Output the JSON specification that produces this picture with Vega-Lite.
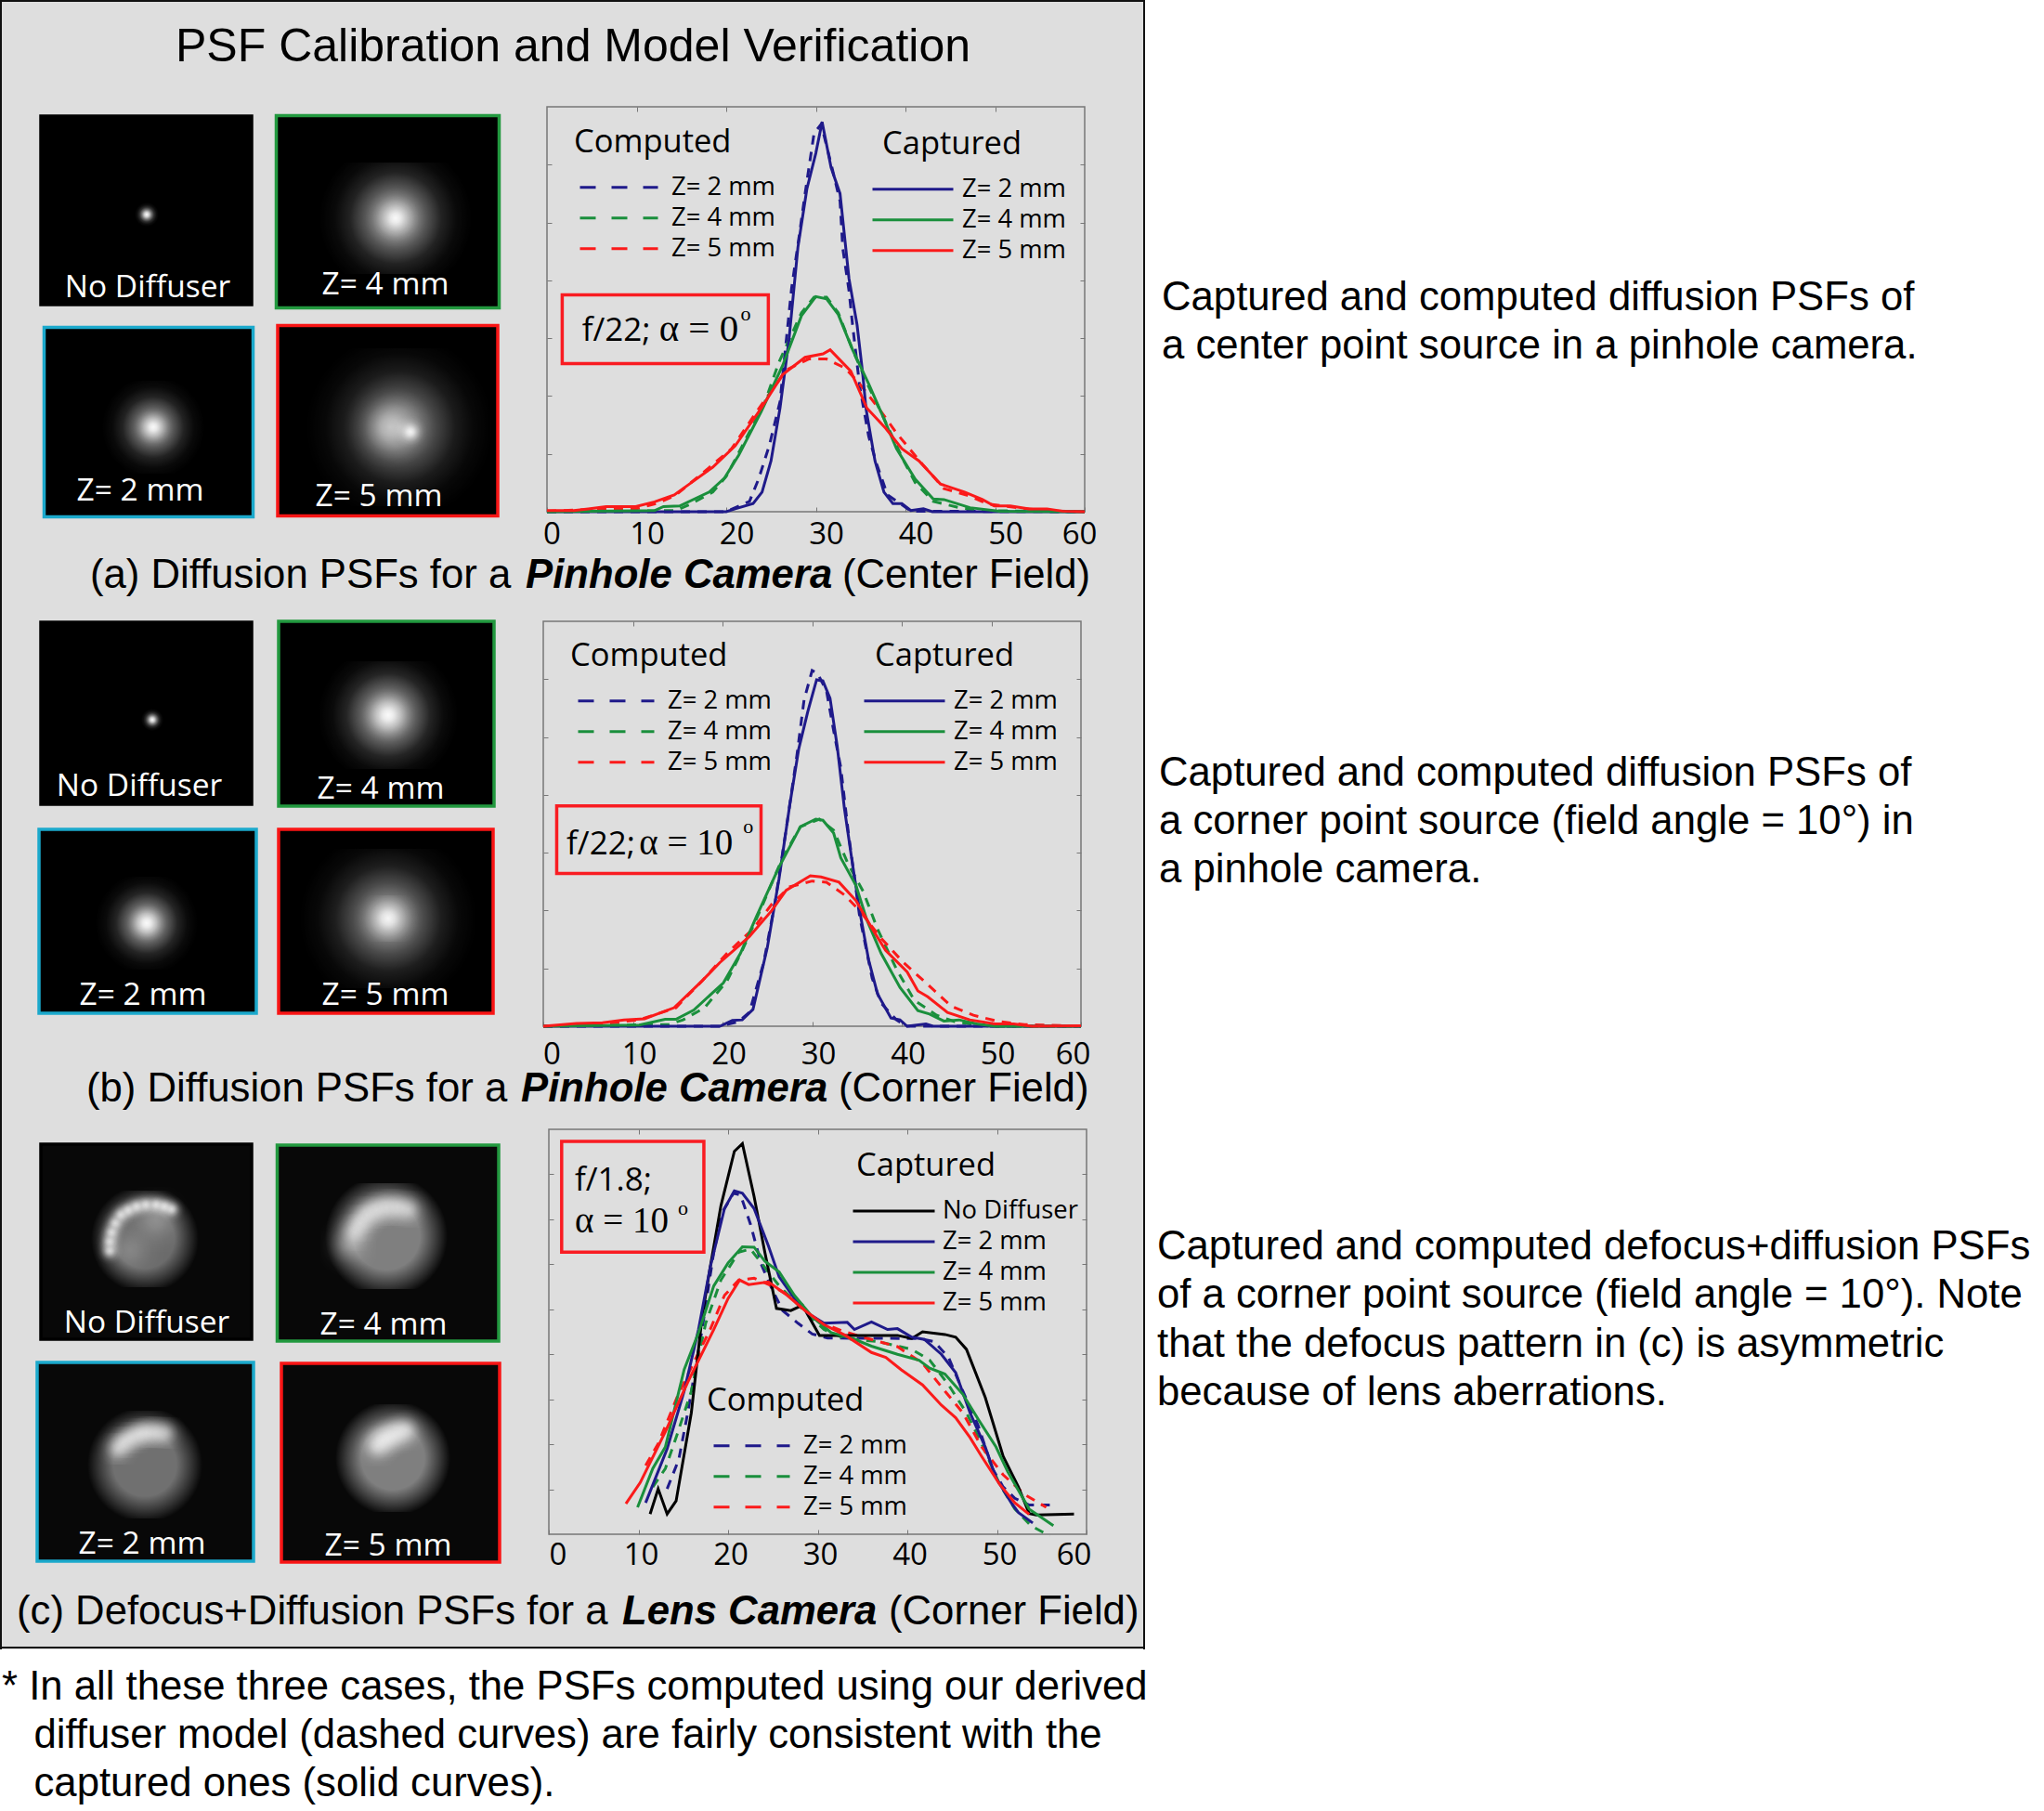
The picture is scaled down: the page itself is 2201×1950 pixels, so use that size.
{"$schema":"https://vega.github.io/schema/vega-lite/v6.json","padding":0,"background":"#dedede","spacing":0,"config":{"view":{"stroke":null}},
"datasets":{
"aComputed":[{"z":"Z= 2 mm","x":0,"y":0},{"z":"Z= 2 mm","x":20,"y":0},{"z":"Z= 2 mm","x":22.6,"y":0.18},{"z":"Z= 2 mm","x":23.6,"y":0.56},{"z":"Z= 2 mm","x":24.8,"y":1.14},{"z":"Z= 2 mm","x":26,"y":1.9},{"z":"Z= 2 mm","x":27.3,"y":3.87},{"z":"Z= 2 mm","x":28.2,"y":4.83},{"z":"Z= 2 mm","x":28.8,"y":5.5},{"z":"Z= 2 mm","x":29.8,"y":6.54},{"z":"Z= 2 mm","x":30.6,"y":6.7},{"z":"Z= 2 mm","x":31.8,"y":5.95},{"z":"Z= 2 mm","x":32.7,"y":5.37},{"z":"Z= 2 mm","x":33,"y":4.56},{"z":"Z= 2 mm","x":33.7,"y":3.82},{"z":"Z= 2 mm","x":34.1,"y":3.23},{"z":"Z= 2 mm","x":34.9,"y":2.16},{"z":"Z= 2 mm","x":35.9,"y":1.3},{"z":"Z= 2 mm","x":36.8,"y":0.82},{"z":"Z= 2 mm","x":38,"y":0.29},{"z":"Z= 2 mm","x":39.8,"y":0.1},{"z":"Z= 2 mm","x":40.6,"y":0.01},{"z":"Z= 2 mm","x":60,"y":0},
{"z":"Z= 4 mm","x":0,"y":0},{"z":"Z= 4 mm","x":14.4,"y":0.02},{"z":"Z= 4 mm","x":16,"y":0.13},{"z":"Z= 4 mm","x":18.5,"y":0.34},{"z":"Z= 4 mm","x":20,"y":0.61},{"z":"Z= 4 mm","x":21.8,"y":1.14},{"z":"Z= 4 mm","x":24.3,"y":1.89},{"z":"Z= 4 mm","x":25.9,"y":2.59},{"z":"Z= 4 mm","x":28.4,"y":3.44},{"z":"Z= 4 mm","x":29.8,"y":3.71},{"z":"Z= 4 mm","x":31.2,"y":3.71},{"z":"Z= 4 mm","x":32.5,"y":3.44},{"z":"Z= 4 mm","x":34.1,"y":2.8},{"z":"Z= 4 mm","x":35.9,"y":2.16},{"z":"Z= 4 mm","x":37.4,"y":1.68},{"z":"Z= 4 mm","x":39.8,"y":0.88},{"z":"Z= 4 mm","x":41.1,"y":0.5},{"z":"Z= 4 mm","x":43.1,"y":0.18},{"z":"Z= 4 mm","x":46,"y":0.07},{"z":"Z= 4 mm","x":48.4,"y":0.02},{"z":"Z= 4 mm","x":60,"y":0},
{"z":"Z= 5 mm","x":0,"y":0.01},{"z":"Z= 5 mm","x":6.2,"y":0.05},{"z":"Z= 5 mm","x":9.9,"y":0.05},{"z":"Z= 5 mm","x":12.4,"y":0.15},{"z":"Z= 5 mm","x":14.4,"y":0.29},{"z":"Z= 5 mm","x":17.3,"y":0.66},{"z":"Z= 5 mm","x":20.6,"y":1.09},{"z":"Z= 5 mm","x":23.4,"y":1.73},{"z":"Z= 5 mm","x":26.7,"y":2.45},{"z":"Z= 5 mm","x":29.2,"y":2.64},{"z":"Z= 5 mm","x":31.2,"y":2.64},{"z":"Z= 5 mm","x":33.3,"y":2.48},{"z":"Z= 5 mm","x":34.9,"y":2.21},{"z":"Z= 5 mm","x":37,"y":1.79},{"z":"Z= 5 mm","x":39,"y":1.36},{"z":"Z= 5 mm","x":41.9,"y":0.82},{"z":"Z= 5 mm","x":44.3,"y":0.4},{"z":"Z= 5 mm","x":46.8,"y":0.29},{"z":"Z= 5 mm","x":49.3,"y":0.13},{"z":"Z= 5 mm","x":52.5,"y":0.07},{"z":"Z= 5 mm","x":55.4,"y":0.02},{"z":"Z= 5 mm","x":60,"y":0}],
"aCaptured":[{"z":"Z= 2 mm","x":0,"y":0},{"z":"Z= 2 mm","x":20,"y":0},{"z":"Z= 2 mm","x":21,"y":0.05},{"z":"Z= 2 mm","x":23,"y":0.14},{"z":"Z= 2 mm","x":24,"y":0.34},{"z":"Z= 2 mm","x":25,"y":0.88},{"z":"Z= 2 mm","x":26,"y":1.79},{"z":"Z= 2 mm","x":27,"y":2.97},{"z":"Z= 2 mm","x":28,"y":4.57},{"z":"Z= 2 mm","x":29,"y":5.58},{"z":"Z= 2 mm","x":30,"y":6.2},{"z":"Z= 2 mm","x":30.7,"y":6.74},{"z":"Z= 2 mm","x":31.7,"y":5.95},{"z":"Z= 2 mm","x":32.7,"y":5.5},{"z":"Z= 2 mm","x":33.7,"y":4.03},{"z":"Z= 2 mm","x":34.6,"y":3.23},{"z":"Z= 2 mm","x":35.2,"y":2.43},{"z":"Z= 2 mm","x":35.6,"y":1.78},{"z":"Z= 2 mm","x":36.6,"y":0.88},{"z":"Z= 2 mm","x":37.6,"y":0.34},{"z":"Z= 2 mm","x":38.6,"y":0.14},{"z":"Z= 2 mm","x":39.6,"y":0.14},{"z":"Z= 2 mm","x":40.6,"y":0.02},{"z":"Z= 2 mm","x":42,"y":0.05},{"z":"Z= 2 mm","x":43,"y":0},{"z":"Z= 2 mm","x":60,"y":0},
{"z":"Z= 4 mm","x":0,"y":0},{"z":"Z= 4 mm","x":12,"y":0.02},{"z":"Z= 4 mm","x":13,"y":0.09},{"z":"Z= 4 mm","x":14.8,"y":0.1},{"z":"Z= 4 mm","x":18.1,"y":0.34},{"z":"Z= 4 mm","x":19.8,"y":0.58},{"z":"Z= 4 mm","x":21.4,"y":0.98},{"z":"Z= 4 mm","x":23.9,"y":1.73},{"z":"Z= 4 mm","x":26.3,"y":2.53},{"z":"Z= 4 mm","x":28.4,"y":3.39},{"z":"Z= 4 mm","x":30,"y":3.72},{"z":"Z= 4 mm","x":31.2,"y":3.68},{"z":"Z= 4 mm","x":32.5,"y":3.41},{"z":"Z= 4 mm","x":34.1,"y":2.8},{"z":"Z= 4 mm","x":35.9,"y":2.21},{"z":"Z= 4 mm","x":37.4,"y":1.68},{"z":"Z= 4 mm","x":39,"y":1.09},{"z":"Z= 4 mm","x":41.1,"y":0.56},{"z":"Z= 4 mm","x":43.1,"y":0.22},{"z":"Z= 4 mm","x":44.3,"y":0.21},{"z":"Z= 4 mm","x":47.2,"y":0.07},{"z":"Z= 4 mm","x":50.5,"y":0.01},{"z":"Z= 4 mm","x":60,"y":0},
{"z":"Z= 5 mm","x":0,"y":0.02},{"z":"Z= 5 mm","x":3,"y":0.02},{"z":"Z= 5 mm","x":4.6,"y":0.05},{"z":"Z= 5 mm","x":6.6,"y":0.09},{"z":"Z= 5 mm","x":9.9,"y":0.09},{"z":"Z= 5 mm","x":12,"y":0.17},{"z":"Z= 5 mm","x":14.2,"y":0.29},{"z":"Z= 5 mm","x":15.9,"y":0.48},{"z":"Z= 5 mm","x":18.5,"y":0.77},{"z":"Z= 5 mm","x":21,"y":1.14},{"z":"Z= 5 mm","x":23.9,"y":1.79},{"z":"Z= 5 mm","x":26.3,"y":2.37},{"z":"Z= 5 mm","x":28.8,"y":2.67},{"z":"Z= 5 mm","x":30.8,"y":2.73},{"z":"Z= 5 mm","x":31.6,"y":2.8},{"z":"Z= 5 mm","x":33.9,"y":2.43},{"z":"Z= 5 mm","x":35.7,"y":1.79},{"z":"Z= 5 mm","x":37.8,"y":1.44},{"z":"Z= 5 mm","x":39.6,"y":1.09},{"z":"Z= 5 mm","x":41.5,"y":0.88},{"z":"Z= 5 mm","x":43.9,"y":0.48},{"z":"Z= 5 mm","x":46.6,"y":0.34},{"z":"Z= 5 mm","x":48.6,"y":0.21},{"z":"Z= 5 mm","x":49.9,"y":0.1},{"z":"Z= 5 mm","x":51.7,"y":0.1},{"z":"Z= 5 mm","x":53.8,"y":0.05},{"z":"Z= 5 mm","x":55.8,"y":0.05},{"z":"Z= 5 mm","x":57.5,"y":0.01},{"z":"Z= 5 mm","x":60,"y":0}],
"bComputed":[{"z":"Z= 2 mm","x":0,"y":0},{"z":"Z= 2 mm","x":19.7,"y":0},{"z":"Z= 2 mm","x":21.8,"y":0.08},{"z":"Z= 2 mm","x":23,"y":0.24},{"z":"Z= 2 mm","x":24.6,"y":1.1},{"z":"Z= 2 mm","x":25.9,"y":2.17},{"z":"Z= 2 mm","x":27.1,"y":3.4},{"z":"Z= 2 mm","x":28.3,"y":4.68},{"z":"Z= 2 mm","x":29.1,"y":5.64},{"z":"Z= 2 mm","x":30,"y":6.15},{"z":"Z= 2 mm","x":30.6,"y":6.1},{"z":"Z= 2 mm","x":31.6,"y":5.8},{"z":"Z= 2 mm","x":32.4,"y":5.11},{"z":"Z= 2 mm","x":33.2,"y":4.47},{"z":"Z= 2 mm","x":34,"y":3.4},{"z":"Z= 2 mm","x":35.3,"y":1.9},{"z":"Z= 2 mm","x":36.7,"y":0.83},{"z":"Z= 2 mm","x":37.7,"y":0.4},{"z":"Z= 2 mm","x":39.4,"y":0.11},{"z":"Z= 2 mm","x":40.6,"y":0},{"z":"Z= 2 mm","x":60,"y":0},
{"z":"Z= 4 mm","x":0,"y":0},{"z":"Z= 4 mm","x":14,"y":0.03},{"z":"Z= 4 mm","x":15.6,"y":0.11},{"z":"Z= 4 mm","x":18,"y":0.32},{"z":"Z= 4 mm","x":20.5,"y":0.78},{"z":"Z= 4 mm","x":22.2,"y":1.31},{"z":"Z= 4 mm","x":24.2,"y":2},{"z":"Z= 4 mm","x":26.7,"y":2.91},{"z":"Z= 4 mm","x":28.7,"y":3.45},{"z":"Z= 4 mm","x":30.8,"y":3.58},{"z":"Z= 4 mm","x":32.4,"y":3.39},{"z":"Z= 4 mm","x":34,"y":2.81},{"z":"Z= 4 mm","x":35.7,"y":2.33},{"z":"Z= 4 mm","x":37.3,"y":1.68},{"z":"Z= 4 mm","x":39.4,"y":0.99},{"z":"Z= 4 mm","x":41.4,"y":0.45},{"z":"Z= 4 mm","x":43.9,"y":0.19},{"z":"Z= 4 mm","x":45.9,"y":0.08},{"z":"Z= 4 mm","x":48,"y":0.03},{"z":"Z= 4 mm","x":50,"y":0},{"z":"Z= 4 mm","x":60,"y":0},
{"z":"Z= 5 mm","x":0,"y":0},{"z":"Z= 5 mm","x":6.6,"y":0.04},{"z":"Z= 5 mm","x":10.7,"y":0.11},{"z":"Z= 5 mm","x":14.8,"y":0.32},{"z":"Z= 5 mm","x":17.7,"y":0.78},{"z":"Z= 5 mm","x":20.5,"y":1.26},{"z":"Z= 5 mm","x":23.4,"y":1.68},{"z":"Z= 5 mm","x":25.5,"y":2.11},{"z":"Z= 5 mm","x":27.5,"y":2.41},{"z":"Z= 5 mm","x":30,"y":2.51},{"z":"Z= 5 mm","x":31.6,"y":2.49},{"z":"Z= 5 mm","x":33.6,"y":2.27},{"z":"Z= 5 mm","x":35.3,"y":2},{"z":"Z= 5 mm","x":37.7,"y":1.52},{"z":"Z= 5 mm","x":40.2,"y":1.1},{"z":"Z= 5 mm","x":42.7,"y":0.75},{"z":"Z= 5 mm","x":45.5,"y":0.35},{"z":"Z= 5 mm","x":48,"y":0.19},{"z":"Z= 5 mm","x":50.9,"y":0.08},{"z":"Z= 5 mm","x":53.7,"y":0.03},{"z":"Z= 5 mm","x":60,"y":0}],
"bCaptured":[{"z":"Z= 2 mm","x":0,"y":0},{"z":"Z= 2 mm","x":19.7,"y":0},{"z":"Z= 2 mm","x":21.1,"y":0.1},{"z":"Z= 2 mm","x":22.2,"y":0.11},{"z":"Z= 2 mm","x":23.4,"y":0.29},{"z":"Z= 2 mm","x":25,"y":1.36},{"z":"Z= 2 mm","x":26.3,"y":2.54},{"z":"Z= 2 mm","x":27.5,"y":3.82},{"z":"Z= 2 mm","x":28.5,"y":4.79},{"z":"Z= 2 mm","x":29.5,"y":5.43},{"z":"Z= 2 mm","x":30.5,"y":5.99},{"z":"Z= 2 mm","x":31.2,"y":5.97},{"z":"Z= 2 mm","x":32,"y":5.67},{"z":"Z= 2 mm","x":32.8,"y":4.84},{"z":"Z= 2 mm","x":33.6,"y":3.77},{"z":"Z= 2 mm","x":34.5,"y":2.81},{"z":"Z= 2 mm","x":35.3,"y":2},{"z":"Z= 2 mm","x":36.3,"y":1.15},{"z":"Z= 2 mm","x":37.3,"y":0.56},{"z":"Z= 2 mm","x":38.8,"y":0.14},{"z":"Z= 2 mm","x":39.8,"y":0.11},{"z":"Z= 2 mm","x":40.6,"y":0},{"z":"Z= 2 mm","x":42.7,"y":0.04},{"z":"Z= 2 mm","x":43.5,"y":0},{"z":"Z= 2 mm","x":60,"y":0},
{"z":"Z= 4 mm","x":0,"y":0},{"z":"Z= 4 mm","x":10.7,"y":0.02},{"z":"Z= 4 mm","x":13.6,"y":0.12},{"z":"Z= 4 mm","x":14.8,"y":0.12},{"z":"Z= 4 mm","x":16.8,"y":0.28},{"z":"Z= 4 mm","x":20.1,"y":0.75},{"z":"Z= 4 mm","x":22,"y":1.26},{"z":"Z= 4 mm","x":23.8,"y":1.9},{"z":"Z= 4 mm","x":26.3,"y":2.75},{"z":"Z= 4 mm","x":28.7,"y":3.45},{"z":"Z= 4 mm","x":30.4,"y":3.58},{"z":"Z= 4 mm","x":31.2,"y":3.56},{"z":"Z= 4 mm","x":32.4,"y":3.34},{"z":"Z= 4 mm","x":33.2,"y":2.91},{"z":"Z= 4 mm","x":34.9,"y":2.43},{"z":"Z= 4 mm","x":36.1,"y":1.84},{"z":"Z= 4 mm","x":37.7,"y":1.26},{"z":"Z= 4 mm","x":39.8,"y":0.67},{"z":"Z= 4 mm","x":41.8,"y":0.27},{"z":"Z= 4 mm","x":43.1,"y":0.21},{"z":"Z= 4 mm","x":44.7,"y":0.09},{"z":"Z= 4 mm","x":46.4,"y":0.11},{"z":"Z= 4 mm","x":48.4,"y":0.04},{"z":"Z= 4 mm","x":50.4,"y":0},{"z":"Z= 4 mm","x":60,"y":0},
{"z":"Z= 5 mm","x":0,"y":0},{"z":"Z= 5 mm","x":3.7,"y":0.05},{"z":"Z= 5 mm","x":6.6,"y":0.06},{"z":"Z= 5 mm","x":9,"y":0.11},{"z":"Z= 5 mm","x":11.3,"y":0.13},{"z":"Z= 5 mm","x":14.6,"y":0.32},{"z":"Z= 5 mm","x":17.7,"y":0.78},{"z":"Z= 5 mm","x":19.7,"y":1.1},{"z":"Z= 5 mm","x":23,"y":1.55},{"z":"Z= 5 mm","x":25.5,"y":2},{"z":"Z= 5 mm","x":27.1,"y":2.35},{"z":"Z= 5 mm","x":29.8,"y":2.6},{"z":"Z= 5 mm","x":31,"y":2.58},{"z":"Z= 5 mm","x":33,"y":2.49},{"z":"Z= 5 mm","x":34.9,"y":2.17},{"z":"Z= 5 mm","x":36.5,"y":1.74},{"z":"Z= 5 mm","x":38.2,"y":1.31},{"z":"Z= 5 mm","x":40.6,"y":0.94},{"z":"Z= 5 mm","x":41.8,"y":0.61},{"z":"Z= 5 mm","x":42.9,"y":0.51},{"z":"Z= 5 mm","x":45.1,"y":0.24},{"z":"Z= 5 mm","x":47.6,"y":0.11},{"z":"Z= 5 mm","x":50.4,"y":0.04},{"z":"Z= 5 mm","x":52.5,"y":0.04},{"z":"Z= 5 mm","x":54.5,"y":0},{"z":"Z= 5 mm","x":60,"y":0.01}],
"cComputed":[{"z":"Z= 2 mm","x":13.2,"y":1.01},{"z":"Z= 2 mm","x":14.5,"y":1.66},{"z":"Z= 2 mm","x":15.5,"y":2.7},{"z":"Z= 2 mm","x":17.1,"y":4.55},{"z":"Z= 2 mm","x":18.4,"y":6.27},{"z":"Z= 2 mm","x":19.4,"y":7.17},{"z":"Z= 2 mm","x":20.6,"y":7.58},{"z":"Z= 2 mm","x":21.4,"y":7.54},{"z":"Z= 2 mm","x":22.5,"y":6.89},{"z":"Z= 2 mm","x":23.7,"y":6},{"z":"Z= 2 mm","x":24.9,"y":5.45},{"z":"Z= 2 mm","x":26.1,"y":4.97},{"z":"Z= 2 mm","x":27.8,"y":4.69},{"z":"Z= 2 mm","x":29.4,"y":4.45},{"z":"Z= 2 mm","x":31.1,"y":4.36},{"z":"Z= 2 mm","x":41.3,"y":4.35},{"z":"Z= 2 mm","x":43,"y":4.28},{"z":"Z= 2 mm","x":44.6,"y":3.93},{"z":"Z= 2 mm","x":46.2,"y":3.18},{"z":"Z= 2 mm","x":47.9,"y":2.42},{"z":"Z= 2 mm","x":49.5,"y":1.46},{"z":"Z= 2 mm","x":50.7,"y":1.05},{"z":"Z= 2 mm","x":52,"y":0.8},{"z":"Z= 2 mm","x":53.6,"y":0.65},{"z":"Z= 2 mm","x":55.9,"y":0.65},
{"z":"Z= 4 mm","x":11.6,"y":1.05},{"z":"Z= 4 mm","x":13,"y":1.46},{"z":"Z= 4 mm","x":14.3,"y":2.21},{"z":"Z= 4 mm","x":15.9,"y":3.18},{"z":"Z= 4 mm","x":17.5,"y":4.69},{"z":"Z= 4 mm","x":19.2,"y":5.65},{"z":"Z= 4 mm","x":21.2,"y":6.27},{"z":"Z= 4 mm","x":22.5,"y":6.34},{"z":"Z= 4 mm","x":24.1,"y":5.93},{"z":"Z= 4 mm","x":25.7,"y":5.52},{"z":"Z= 4 mm","x":27.8,"y":5.1},{"z":"Z= 4 mm","x":30.7,"y":4.55},{"z":"Z= 4 mm","x":33,"y":4.35},{"z":"Z= 4 mm","x":36.8,"y":4.28},{"z":"Z= 4 mm","x":40.5,"y":4.11},{"z":"Z= 4 mm","x":42.5,"y":3.87},{"z":"Z= 4 mm","x":44.6,"y":3.32},{"z":"Z= 4 mm","x":46.6,"y":2.7},{"z":"Z= 4 mm","x":48.3,"y":2.01},{"z":"Z= 4 mm","x":50.3,"y":1.11},{"z":"Z= 4 mm","x":52,"y":0.56},{"z":"Z= 4 mm","x":53.8,"y":0.19},{"z":"Z= 4 mm","x":55.9,"y":-0.04},
{"z":"Z= 5 mm","x":10.8,"y":1.53},{"z":"Z= 5 mm","x":12.2,"y":2.01},{"z":"Z= 5 mm","x":14.3,"y":3.04},{"z":"Z= 5 mm","x":16.3,"y":3.87},{"z":"Z= 5 mm","x":18,"y":4.55},{"z":"Z= 5 mm","x":19.6,"y":5.31},{"z":"Z= 5 mm","x":21.2,"y":5.65},{"z":"Z= 5 mm","x":22.9,"y":5.69},{"z":"Z= 5 mm","x":24.9,"y":5.52},{"z":"Z= 5 mm","x":27.4,"y":5.24},{"z":"Z= 5 mm","x":29.8,"y":4.76},{"z":"Z= 5 mm","x":32.7,"y":4.52},{"z":"Z= 5 mm","x":35.6,"y":4.35},{"z":"Z= 5 mm","x":38.9,"y":4.17},{"z":"Z= 5 mm","x":41.7,"y":3.8},{"z":"Z= 5 mm","x":44.2,"y":3.18},{"z":"Z= 5 mm","x":46.2,"y":2.7},{"z":"Z= 5 mm","x":48.3,"y":1.94},{"z":"Z= 5 mm","x":50.7,"y":1.32},{"z":"Z= 5 mm","x":53.2,"y":0.87},{"z":"Z= 5 mm","x":55.5,"y":0.6}],
"cCaptured":[{"z":"No Diffuser","x":11.3,"y":0.45},{"z":"No Diffuser","x":12.2,"y":1.01},{"z":"No Diffuser","x":13.2,"y":0.45},{"z":"No Diffuser","x":14.2,"y":0.74},{"z":"No Diffuser","x":15.9,"y":2.7},{"z":"No Diffuser","x":17.1,"y":4.83},{"z":"No Diffuser","x":18,"y":5.93},{"z":"No Diffuser","x":19.2,"y":7.3},{"z":"No Diffuser","x":20.7,"y":8.51},{"z":"No Diffuser","x":21.6,"y":8.68},{"z":"No Diffuser","x":22.9,"y":7.51},{"z":"No Diffuser","x":24.1,"y":6.27},{"z":"No Diffuser","x":25.4,"y":5.02},{"z":"No Diffuser","x":27,"y":4.97},{"z":"No Diffuser","x":28.3,"y":5.09},{"z":"No Diffuser","x":30.2,"y":4.42},{"z":"No Diffuser","x":38.9,"y":4.42},{"z":"No Diffuser","x":40.5,"y":4.35},{"z":"No Diffuser","x":41.7,"y":4.5},{"z":"No Diffuser","x":44.2,"y":4.44},{"z":"No Diffuser","x":45.4,"y":4.38},{"z":"No Diffuser","x":46.6,"y":4.11},{"z":"No Diffuser","x":48.7,"y":3.04},{"z":"No Diffuser","x":50.7,"y":1.73},{"z":"No Diffuser","x":52.4,"y":1.05},{"z":"No Diffuser","x":53.6,"y":0.46},{"z":"No Diffuser","x":54.4,"y":0.43},{"z":"No Diffuser","x":58.6,"y":0.45},
{"z":"Z= 2 mm","x":10.8,"y":0.7},{"z":"Z= 2 mm","x":13.2,"y":1.9},{"z":"Z= 2 mm","x":15.1,"y":3.18},{"z":"Z= 2 mm","x":16.7,"y":4.55},{"z":"Z= 2 mm","x":18,"y":5.93},{"z":"Z= 2 mm","x":19.6,"y":7.24},{"z":"Z= 2 mm","x":20.7,"y":7.63},{"z":"Z= 2 mm","x":21.6,"y":7.58},{"z":"Z= 2 mm","x":22.9,"y":7.24},{"z":"Z= 2 mm","x":24.5,"y":6.41},{"z":"Z= 2 mm","x":25.7,"y":5.72},{"z":"Z= 2 mm","x":27.4,"y":5.24},{"z":"Z= 2 mm","x":29,"y":4.9},{"z":"Z= 2 mm","x":30.7,"y":4.69},{"z":"Z= 2 mm","x":33.3,"y":4.71},{"z":"Z= 2 mm","x":34.1,"y":4.55},{"z":"Z= 2 mm","x":36,"y":4.72},{"z":"Z= 2 mm","x":37.8,"y":4.55},{"z":"Z= 2 mm","x":38.9,"y":4.57},{"z":"Z= 2 mm","x":40.5,"y":4.38},{"z":"Z= 2 mm","x":41.9,"y":4.33},{"z":"Z= 2 mm","x":43.8,"y":4},{"z":"Z= 2 mm","x":45.4,"y":3.59},{"z":"Z= 2 mm","x":47,"y":2.7},{"z":"Z= 2 mm","x":48.7,"y":1.94},{"z":"Z= 2 mm","x":49.9,"y":1.25},{"z":"Z= 2 mm","x":51.6,"y":0.7},{"z":"Z= 2 mm","x":52.4,"y":0.48},{"z":"Z= 2 mm","x":54,"y":0.25},
{"z":"Z= 4 mm","x":9.9,"y":0.6},{"z":"Z= 4 mm","x":11.6,"y":1.46},{"z":"Z= 4 mm","x":13,"y":1.94},{"z":"Z= 4 mm","x":15.1,"y":3.66},{"z":"Z= 4 mm","x":16.7,"y":4.48},{"z":"Z= 4 mm","x":18.4,"y":5.52},{"z":"Z= 4 mm","x":20,"y":6.03},{"z":"Z= 4 mm","x":21.6,"y":6.39},{"z":"Z= 4 mm","x":22.9,"y":6.38},{"z":"Z= 4 mm","x":24.1,"y":6.07},{"z":"Z= 4 mm","x":25.7,"y":5.83},{"z":"Z= 4 mm","x":27.4,"y":5.31},{"z":"Z= 4 mm","x":29.4,"y":4.83},{"z":"Z= 4 mm","x":31.5,"y":4.48},{"z":"Z= 4 mm","x":33.9,"y":4.35},{"z":"Z= 4 mm","x":36,"y":4.18},{"z":"Z= 4 mm","x":38.9,"y":4},{"z":"Z= 4 mm","x":41.3,"y":3.87},{"z":"Z= 4 mm","x":42.5,"y":3.69},{"z":"Z= 4 mm","x":44.2,"y":3.56},{"z":"Z= 4 mm","x":46.2,"y":3.11},{"z":"Z= 4 mm","x":47.9,"y":2.56},{"z":"Z= 4 mm","x":49.9,"y":1.94},{"z":"Z= 4 mm","x":51.2,"y":1.39},{"z":"Z= 4 mm","x":53.6,"y":0.56},{"z":"Z= 4 mm","x":56.3,"y":0.19},
{"z":"Z= 5 mm","x":8.6,"y":0.68},{"z":"Z= 5 mm","x":10.2,"y":1.15},{"z":"Z= 5 mm","x":13,"y":2.28},{"z":"Z= 5 mm","x":15.5,"y":3.38},{"z":"Z= 5 mm","x":18.4,"y":4.55},{"z":"Z= 5 mm","x":20,"y":5.24},{"z":"Z= 5 mm","x":21.3,"y":5.65},{"z":"Z= 5 mm","x":22.3,"y":5.55},{"z":"Z= 5 mm","x":24.5,"y":5.61},{"z":"Z= 5 mm","x":26.6,"y":5.31},{"z":"Z= 5 mm","x":28.6,"y":4.97},{"z":"Z= 5 mm","x":30.7,"y":4.66},{"z":"Z= 5 mm","x":33.1,"y":4.42},{"z":"Z= 5 mm","x":36,"y":4.04},{"z":"Z= 5 mm","x":37.6,"y":3.93},{"z":"Z= 5 mm","x":39.3,"y":3.66},{"z":"Z= 5 mm","x":41.7,"y":3.32},{"z":"Z= 5 mm","x":43.8,"y":2.87},{"z":"Z= 5 mm","x":45.4,"y":2.59},{"z":"Z= 5 mm","x":47,"y":2.15},{"z":"Z= 5 mm","x":48.3,"y":1.73},{"z":"Z= 5 mm","x":50.3,"y":1.11},{"z":"Z= 5 mm","x":52,"y":0.7},{"z":"Z= 5 mm","x":53.6,"y":0.44}]
},
"vconcat":[
{"hconcat":[
{"width":2,"height":1776,"data":{"values":[{}]},"mark":{"type":"rect","color":"#111"},"encoding":{}},
{"vconcat":[
{"width":1229,"height":2,"data":{"values":[{}]},"mark":{"type":"rect","color":"#111"},"encoding":{}},
{"width":1229,"height":111,"layer":[
{"data":{"values":[{"x0":2,"x1":1231,"y0":2,"y1":113}]},"mark":{"type":"rect","opacity":0},"encoding":{"x":{"field":"x0","type":"quantitative","scale":{"domain":[2,1231],"nice":false,"zero":false},"axis":null},"x2":{"field":"x1"},"y":{"field":"y0","type":"quantitative","scale":{"domain":[2,113],"nice":false,"zero":false,"reverse":true},"axis":null},"y2":{"field":"y1"}}},
{"data":{"values":[{"label":"PSF Calibration and Model Verification","x0":189,"y0":66}]},"mark":{"type":"text","font":"Liberation Sans","fontSize":50,"align":"left","baseline":"alphabetic","color":"#000"},"encoding":{"x":{"field":"x0","type":"quantitative","axis":null},"y":{"field":"y0","type":"quantitative","axis":null},"text":{"field":"label"}}}
]},
{"hconcat":[
{"width":587,"height":436,"layer":[
{"data":{"values":[{"x0":2,"x1":1231,"y0":0,"y1":551}]},"mark":{"type":"rect","opacity":0},"encoding":{"x":{"field":"x0","type":"quantitative","scale":{"domain":[2,589],"nice":false,"zero":false},"axis":null},"x2":{"field":"x1"},"y":{"field":"y0","type":"quantitative","scale":{"domain":[0,436],"nice":false,"zero":false,"reverse":true},"axis":null},"y2":{"field":"y1"}}},
{"data":{"values":[{"x0":44,"x1":271,"y0":10,"y1":213,"frame":"none"},{"x0":297.5,"x1":537.5,"y0":9.5,"y1":216.5,"frame":"green"},{"x0":47.5,"x1":272.5,"y0":237.5,"y1":441.5,"frame":"blue"},{"x0":299,"x1":536,"y0":235.5,"y1":440.5,"frame":"red"}]},"mark":{"type":"rect","fill":"#000","strokeWidth":3.5},"encoding":{"x":{"field":"x0","type":"quantitative","axis":null},"x2":{"field":"x1"},"y":{"field":"y0","type":"quantitative","axis":null},"y2":{"field":"y1"},"stroke":{"field":"frame","type":"nominal","scale":{"domain":["none","blue","green","red"],"range":["#000000","#1ba9cc","#22993f","#f91515"]},"legend":null}}},
{"data":{"values":[{"x0":145,"x1":171,"y0":103,"y1":129,"v":1},{"x0":344,"x1":508,"y0":60,"y1":180,"v":0.75},{"x0":400,"x1":452,"y0":95,"y1":145,"v":0.9},{"x0":110,"x1":220,"y0":295,"y1":395,"v":0.75},{"x0":146,"x1":184,"y0":328,"y1":362,"v":0.9},{"x0":330,"x1":530,"y0":260,"y1":430,"v":0.6},{"x0":375,"x1":465,"y0":300,"y1":390,"v":0.5},{"x0":424,"x1":460,"y0":332,"y1":368,"v":0.9}]},"mark":{"type":"rect","fill":{"gradient":"radial","x1":0.5,"y1":0.5,"r1":0,"x2":0.5,"y2":0.5,"r2":0.5,"stops":[{"offset":0,"color":"rgba(255,255,255,1)"},{"offset":0.2,"color":"rgba(255,255,255,0.8)"},{"offset":0.4,"color":"rgba(255,255,255,0.45)"},{"offset":0.6,"color":"rgba(255,255,255,0.18)"},{"offset":0.8,"color":"rgba(255,255,255,0.05)"},{"offset":1,"color":"rgba(255,255,255,0)"}]}},"encoding":{"x":{"field":"x0","type":"quantitative","axis":null},"x2":{"field":"x1"},"y":{"field":"y0","type":"quantitative","axis":null},"y2":{"field":"y1"},"opacity":{"field":"v","type":"quantitative","scale":{"domain":[0,1],"range":[0,1]},"legend":null}}},
{"data":{"values":[{"label":"No Diffuser","x0":159,"y0":205},{"label":"Z= 4 mm","x0":415,"y0":202},{"label":"Z= 2 mm","x0":151,"y0":424},{"label":"Z= 5 mm","x0":408,"y0":430}]},"mark":{"type":"text","font":"Open Sans","fontSize":33.5,"align":"center","baseline":"alphabetic","color":"#fff"},"encoding":{"x":{"field":"x0","type":"quantitative","axis":null},"y":{"field":"y0","type":"quantitative","axis":null},"text":{"field":"label"}}},
{"data":{"values":[{"label":"(a) Diffusion PSFs for a","x0":97,"y0":517.5},{"label":"(Center Field)","x0":907,"y0":517.5}]},"mark":{"type":"text","font":"Liberation Sans","fontSize":43.7,"align":"left","baseline":"alphabetic","color":"#000"},"encoding":{"x":{"field":"x0","type":"quantitative","axis":null},"y":{"field":"y0","type":"quantitative","axis":null},"text":{"field":"label"}}},
{"data":{"values":[{"label":"Pinhole Camera","x0":566,"y0":517.5}]},"mark":{"type":"text","font":"Liberation Sans","fontSize":43.7,"fontStyle":"italic","fontWeight":"bold","align":"left","baseline":"alphabetic","color":"#000"},"encoding":{"x":{"field":"x0","type":"quantitative","axis":null},"y":{"field":"y0","type":"quantitative","axis":null},"text":{"field":"label"}}}
]},
{"width":579,"height":436,"view":{"stroke":"#777","strokeWidth":1.5},"resolve":{"scale":{"color":"independent"}},"layer":[
{"data":{"name":"aComputed"},"mark":{"type":"line","strokeWidth":3,"strokeDash":[10,8]},"encoding":{"x":{"field":"x","type":"quantitative","scale":{"domain":[0,60],"nice":false},"axis":{"orient":"bottom","values":[0,10,20,30,40,50,60],"title":null,"grid":false,"domain":false,"tickSize":-5,"tickColor":"#777","labelFont":"Open Sans","labelFontSize":33,"labelColor":"#000","labelPadding":13,"labelFlush":false,"encoding":{"labels":{"dx":{"value":{"expr":"datum.value==0?5:datum.value==60?-6:11"}}}}}},"y":{"field":"y","type":"quantitative","scale":{"domain":[0,7],"nice":false},"axis":{"orient":"left","values":[1,2,3,4,5,6],"title":null,"grid":false,"domain":false,"labels":false,"tickSize":-5,"tickColor":"#777"}},"color":{"field":"z","type":"nominal","scale":{"domain":["Z= 2 mm","Z= 4 mm","Z= 5 mm"],"range":["#1f1a8a","#1a8f3c","#fb1a1a"]},"legend":{"title":"Computed","orient":"none","legendX":29,"legendY":22,"symbolType":"stroke","symbolSize":7056,"symbolStrokeWidth":3,"symbolDash":[17,17],"symbolOffset":5,"clipHeight":32.7,"rowPadding":0,"labelFont":"Open Sans","labelFontSize":27.4,"labelColor":"#000","labelOffset":13,"labelLimit":300,"titleFont":"Open Sans","titleFontSize":34.5,"titleFontWeight":"normal","titleColor":"#000","titlePadding":14,"titleLimit":400,"padding":0}}}},
{"data":{"name":"aCaptured"},"mark":{"type":"line","strokeWidth":3},"encoding":{"x":{"field":"x","type":"quantitative","axis":{"orient":"top","values":[10,20,30,40,50],"title":null,"grid":false,"domain":false,"labels":false,"tickSize":-5,"tickColor":"#777"}},"y":{"field":"y","type":"quantitative","axis":{"orient":"right","values":[1,2,3,4,5,6],"title":null,"grid":false,"domain":false,"labels":false,"tickSize":-5,"tickColor":"#777"}},"color":{"field":"z","type":"nominal","scale":{"domain":["Z= 2 mm","Z= 4 mm","Z= 5 mm"],"range":["#1f1a8a","#1a8f3c","#fb1a1a"]},"legend":{"title":"Captured","orient":"none","legendX":349,"legendY":24,"symbolType":"stroke","symbolSize":7569,"symbolStrokeWidth":3,"clipHeight":32.7,"rowPadding":0,"labelFont":"Open Sans","labelFontSize":27.4,"labelColor":"#000","labelOffset":8,"labelLimit":300,"titleFont":"Open Sans","titleFontSize":34.5,"titleFontWeight":"normal","titleColor":"#000","titlePadding":14,"titleLimit":400,"padding":0,"encoding":{"title":{"dx":{"value":12}}}}}}},
{"data":{"values":[{"x0":1.7,"x1":24.7,"y0":3.75,"y1":2.56}]},"mark":{"type":"rect","fill":null,"stroke":"#f91c22","strokeWidth":3.5},"encoding":{"x":{"field":"x0","type":"quantitative","axis":null},"x2":{"field":"x1"},"y":{"field":"y0","type":"quantitative","axis":null},"y2":{"field":"y1"}}},
{"data":{"values":[{"label":"f/22;","x0":3.9,"y0":2.96}]},"mark":{"type":"text","font":"Open Sans","fontSize":35,"align":"left","baseline":"alphabetic","color":"#000"},"encoding":{"x":{"field":"x0","type":"quantitative","axis":null},"y":{"field":"y0","type":"quantitative","axis":null},"text":{"field":"label"}}},
{"data":{"values":[{"label":"α = 0","x0":12.5,"y0":2.96}]},"mark":{"type":"text","font":"Liberation Serif","fontSize":41,"align":"left","baseline":"alphabetic","color":"#000"},"encoding":{"x":{"field":"x0","type":"quantitative","axis":null},"y":{"field":"y0","type":"quantitative","axis":null},"text":{"field":"label"}}},
{"data":{"values":[{"label":"o","x0":21.6,"y0":3.31}]},"mark":{"type":"text","font":"Liberation Serif","fontSize":22,"align":"left","baseline":"alphabetic","color":"#000"},"encoding":{"x":{"field":"x0","type":"quantitative","axis":null},"y":{"field":"y0","type":"quantitative","axis":null},"text":{"field":"label"}}}
]}
],"spacing":0,"bounds":"flush"},
{"hconcat":[
{"width":583,"height":436,"layer":[
{"data":{"values":[{"x0":2,"x1":1231,"y0":-3,"y1":545}]},"mark":{"type":"rect","opacity":0},"encoding":{"x":{"field":"x0","type":"quantitative","scale":{"domain":[2,585],"nice":false,"zero":false},"axis":null},"x2":{"field":"x1"},"y":{"field":"y0","type":"quantitative","scale":{"domain":[0,436],"nice":false,"zero":false,"reverse":true},"axis":null},"y2":{"field":"y1"}}},
{"data":{"values":[{"x0":44,"x1":271,"y0":1,"y1":197,"frame":"none"},{"x0":300,"x1":532,"y0":0,"y1":199,"frame":"green"},{"x0":42,"x1":276,"y0":224,"y1":422,"frame":"blue"},{"x0":300,"x1":531,"y0":224,"y1":422,"frame":"red"}]},"mark":{"type":"rect","fill":"#000","strokeWidth":3.5},"encoding":{"x":{"field":"x0","type":"quantitative","axis":null},"x2":{"field":"x1"},"y":{"field":"y0","type":"quantitative","axis":null},"y2":{"field":"y1"},"stroke":{"field":"frame","type":"nominal","scale":{"domain":["none","blue","green","red"],"range":["#000000","#1ba9cc","#22993f","#f91515"]},"legend":null}}},
{"data":{"values":[{"x0":152,"x1":176,"y0":94,"y1":118,"v":1},{"x0":343,"x1":493,"y0":43,"y1":159,"v":0.8},{"x0":392,"x1":444,"y0":76,"y1":126,"v":0.9},{"x0":103,"x1":213,"y0":275,"y1":375,"v":0.8},{"x0":138,"x1":178,"y0":307,"y1":343,"v":0.9},{"x0":323,"x1":513,"y0":245,"y1":395,"v":0.65},{"x0":385,"x1":451,"y0":295,"y1":345,"v":0.9}]},"mark":{"type":"rect","fill":{"gradient":"radial","x1":0.5,"y1":0.5,"r1":0,"x2":0.5,"y2":0.5,"r2":0.5,"stops":[{"offset":0,"color":"rgba(255,255,255,1)"},{"offset":0.2,"color":"rgba(255,255,255,0.8)"},{"offset":0.4,"color":"rgba(255,255,255,0.45)"},{"offset":0.6,"color":"rgba(255,255,255,0.18)"},{"offset":0.8,"color":"rgba(255,255,255,0.05)"},{"offset":1,"color":"rgba(255,255,255,0)"}]}},"encoding":{"x":{"field":"x0","type":"quantitative","axis":null},"x2":{"field":"x1"},"y":{"field":"y0","type":"quantitative","axis":null},"y2":{"field":"y1"},"opacity":{"field":"v","type":"quantitative","scale":{"domain":[0,1],"range":[0,1]},"legend":null}}},
{"data":{"values":[{"label":"No Diffuser","x0":150,"y0":188},{"label":"Z= 4 mm","x0":410,"y0":191},{"label":"Z= 2 mm","x0":154,"y0":413},{"label":"Z= 5 mm","x0":415,"y0":413}]},"mark":{"type":"text","font":"Open Sans","fontSize":33.5,"align":"center","baseline":"alphabetic","color":"#fff"},"encoding":{"x":{"field":"x0","type":"quantitative","axis":null},"y":{"field":"y0","type":"quantitative","axis":null},"text":{"field":"label"}}},
{"data":{"values":[{"label":"(b) Diffusion PSFs for a","x0":93,"y0":517},{"label":"(Corner Field)","x0":903,"y0":517}]},"mark":{"type":"text","font":"Liberation Sans","fontSize":43.7,"align":"left","baseline":"alphabetic","color":"#000"},"encoding":{"x":{"field":"x0","type":"quantitative","axis":null},"y":{"field":"y0","type":"quantitative","axis":null},"text":{"field":"label"}}},
{"data":{"values":[{"label":"Pinhole Camera","x0":561,"y0":517}]},"mark":{"type":"text","font":"Liberation Sans","fontSize":43.7,"fontStyle":"italic","fontWeight":"bold","align":"left","baseline":"alphabetic","color":"#000"},"encoding":{"x":{"field":"x0","type":"quantitative","axis":null},"y":{"field":"y0","type":"quantitative","axis":null},"text":{"field":"label"}}}
]},
{"width":579,"height":436,"view":{"stroke":"#777","strokeWidth":1.5},"resolve":{"scale":{"color":"independent"}},"layer":[
{"data":{"name":"bComputed"},"mark":{"type":"line","strokeWidth":3,"strokeDash":[10,8]},"encoding":{"x":{"field":"x","type":"quantitative","scale":{"domain":[0,60],"nice":false},"axis":{"orient":"bottom","values":[0,10,20,30,40,50,60],"title":null,"grid":false,"domain":false,"tickSize":-5,"tickColor":"#777","labelFont":"Open Sans","labelFontSize":33,"labelColor":"#000","labelPadding":19,"labelFlush":false,"encoding":{"labels":{"dx":{"value":{"expr":"datum.value==0?9:datum.value==60?-9:6.5"}}}}}},"y":{"field":"y","type":"quantitative","scale":{"domain":[0,7],"nice":false},"axis":{"orient":"left","values":[1,2,3,4,5,6],"title":null,"grid":false,"domain":false,"labels":false,"tickSize":-5,"tickColor":"#777"}},"color":{"field":"z","type":"nominal","scale":{"domain":["Z= 2 mm","Z= 4 mm","Z= 5 mm"],"range":["#1f1a8a","#1a8f3c","#fb1a1a"]},"legend":{"title":"Computed","orient":"none","legendX":29,"legendY":21,"symbolType":"stroke","symbolSize":6724,"symbolStrokeWidth":3,"symbolDash":[17,17],"symbolOffset":7,"clipHeight":32.7,"rowPadding":0,"labelFont":"Open Sans","labelFontSize":27.4,"labelColor":"#000","labelOffset":13,"labelLimit":300,"titleFont":"Open Sans","titleFontSize":34.5,"titleFontWeight":"normal","titleColor":"#000","titlePadding":14,"titleLimit":400,"padding":0}}}},
{"data":{"name":"bCaptured"},"mark":{"type":"line","strokeWidth":3},"encoding":{"x":{"field":"x","type":"quantitative","axis":{"orient":"top","values":[10,20,30,40,50],"title":null,"grid":false,"domain":false,"labels":false,"tickSize":-5,"tickColor":"#777"}},"y":{"field":"y","type":"quantitative","axis":{"orient":"right","values":[1,2,3,4,5,6],"title":null,"grid":false,"domain":false,"labels":false,"tickSize":-5,"tickColor":"#777"}},"color":{"field":"z","type":"nominal","scale":{"domain":["Z= 2 mm","Z= 4 mm","Z= 5 mm"],"range":["#1f1a8a","#1a8f3c","#fb1a1a"]},"legend":{"title":"Captured","orient":"none","legendX":344,"legendY":21,"symbolType":"stroke","symbolSize":7569,"symbolStrokeWidth":3,"clipHeight":32.7,"rowPadding":0,"labelFont":"Open Sans","labelFontSize":27.4,"labelColor":"#000","labelOffset":8,"labelLimit":300,"titleFont":"Open Sans","titleFontSize":34.5,"titleFontWeight":"normal","titleColor":"#000","titlePadding":14,"titleLimit":400,"padding":0,"encoding":{"title":{"dx":{"value":13}}}}}}},
{"data":{"values":[{"x0":1.5,"x1":24.3,"y0":3.81,"y1":2.64}]},"mark":{"type":"rect","fill":null,"stroke":"#f91c22","strokeWidth":3.5},"encoding":{"x":{"field":"x0","type":"quantitative","axis":null},"x2":{"field":"x1"},"y":{"field":"y0","type":"quantitative","axis":null},"y2":{"field":"y1"}}},
{"data":{"values":[{"label":"f/22;","x0":2.6,"y0":2.97}]},"mark":{"type":"text","font":"Open Sans","fontSize":35,"align":"left","baseline":"alphabetic","color":"#000"},"encoding":{"x":{"field":"x0","type":"quantitative","axis":null},"y":{"field":"y0","type":"quantitative","axis":null},"text":{"field":"label"}}},
{"data":{"values":[{"label":"α = 10","x0":10.7,"y0":2.97}]},"mark":{"type":"text","font":"Liberation Serif","fontSize":39,"align":"left","baseline":"alphabetic","color":"#000"},"encoding":{"x":{"field":"x0","type":"quantitative","axis":null},"y":{"field":"y0","type":"quantitative","axis":null},"text":{"field":"label"}}},
{"data":{"values":[{"label":"o","x0":22.3,"y0":3.34}]},"mark":{"type":"text","font":"Liberation Serif","fontSize":22,"align":"left","baseline":"alphabetic","color":"#000"},"encoding":{"x":{"field":"x0","type":"quantitative","axis":null},"y":{"field":"y0","type":"quantitative","axis":null},"text":{"field":"label"}}}
]}
],"spacing":0,"bounds":"flush"},
{"hconcat":[
{"width":589,"height":436,"layer":[
{"data":{"values":[{"x0":2,"x1":1231,"y0":0,"y1":556.5}]},"mark":{"type":"rect","opacity":0},"encoding":{"x":{"field":"x0","type":"quantitative","scale":{"domain":[2,591],"nice":false,"zero":false},"axis":null},"x2":{"field":"x1"},"y":{"field":"y0","type":"quantitative","scale":{"domain":[0,436],"nice":false,"zero":false,"reverse":true},"axis":null},"y2":{"field":"y1"}}},
{"data":{"values":[{"x0":44,"x1":271,"y0":16,"y1":226,"frame":"none"},{"x0":298.5,"x1":537,"y0":17,"y1":228,"frame":"green"},{"x0":40,"x1":273,"y0":251,"y1":465,"frame":"blue"},{"x0":303,"x1":538,"y0":252,"y1":466,"frame":"red"}]},"mark":{"type":"rect","fill":"#080808","strokeWidth":3.5},"encoding":{"x":{"field":"x0","type":"quantitative","axis":null},"x2":{"field":"x1"},"y":{"field":"y0","type":"quantitative","axis":null},"y2":{"field":"y1"},"stroke":{"field":"frame","type":"nominal","scale":{"domain":["none","blue","green","red"],"range":["#000000","#1ba9cc","#22993f","#f91515"]},"legend":null}}},
{"data":{"values":[{"x0":98,"x1":214,"y0":66,"y1":170,"v":0.4},{"x0":350,"x1":482,"y0":58,"y1":172,"v":0.48},{"x0":94,"x1":218,"y0":303,"y1":419,"v":0.42},{"x0":361,"x1":485,"y0":296,"y1":412,"v":0.48}]},"mark":{"type":"rect","fill":{"gradient":"radial","x1":0.5,"y1":0.5,"r1":0,"x2":0.5,"y2":0.5,"r2":0.5,"stops":[{"offset":0,"color":"rgba(255,255,255,1)"},{"offset":0.55,"color":"rgba(255,255,255,1)"},{"offset":0.8,"color":"rgba(255,255,255,0.45)"},{"offset":1,"color":"rgba(255,255,255,0)"}]}},"encoding":{"x":{"field":"x0","type":"quantitative","axis":null},"x2":{"field":"x1"},"y":{"field":"y0","type":"quantitative","axis":null},"y2":{"field":"y1"},"opacity":{"field":"v","type":"quantitative","scale":{"domain":[0,1],"range":[0,1]},"legend":null}}},
{"data":{"values":[{"x0":128,"x1":208,"y0":62,"y1":132,"v":0.25},{"x0":100,"x1":180,"y0":98,"y1":162,"v":0.18},{"x0":103,"x1":133,"y0":116,"y1":146,"v":0.75},{"x0":103,"x1":133,"y0":106,"y1":136,"v":0.75},{"x0":105,"x1":135,"y0":96,"y1":126,"v":0.75},{"x0":109,"x1":139,"y0":86,"y1":116,"v":0.75},{"x0":115,"x1":145,"y0":77,"y1":107,"v":0.75},{"x0":123,"x1":153,"y0":72,"y1":102,"v":0.75},{"x0":132,"x1":162,"y0":68,"y1":98,"v":0.75},{"x0":142,"x1":172,"y0":66,"y1":96,"v":0.75},{"x0":153,"x1":183,"y0":66,"y1":96,"v":0.75},{"x0":162,"x1":192,"y0":68,"y1":98,"v":0.75},{"x0":170,"x1":200,"y0":71,"y1":101,"v":0.75},{"x0":345,"x1":405,"y0":90,"y1":160,"v":0.3},{"x0":356,"x1":408,"y0":91,"y1":131,"v":0.5},{"x0":362,"x1":414,"y0":81,"y1":121,"v":0.5},{"x0":369,"x1":421,"y0":72,"y1":112,"v":0.5},{"x0":379,"x1":431,"y0":67,"y1":107,"v":0.5},{"x0":390,"x1":442,"y0":64,"y1":104,"v":0.5},{"x0":402,"x1":454,"y0":64,"y1":104,"v":0.5},{"x0":414,"x1":466,"y0":66,"y1":106,"v":0.5},{"x0":103,"x1":151,"y0":327,"y1":361,"v":0.5},{"x0":109,"x1":157,"y0":320,"y1":354,"v":0.5},{"x0":117,"x1":165,"y0":315,"y1":349,"v":0.5},{"x0":126,"x1":174,"y0":311,"y1":345,"v":0.5},{"x0":134,"x1":182,"y0":309,"y1":343,"v":0.5},{"x0":144,"x1":192,"y0":309,"y1":343,"v":0.5},{"x0":154,"x1":202,"y0":310,"y1":344,"v":0.5},{"x0":380,"x1":432,"y0":319,"y1":363,"v":0.55},{"x0":386,"x1":438,"y0":313,"y1":357,"v":0.55},{"x0":393,"x1":445,"y0":309,"y1":353,"v":0.55},{"x0":402,"x1":454,"y0":305,"y1":349,"v":0.55},{"x0":411,"x1":463,"y0":302,"y1":346,"v":0.55}]},"mark":{"type":"rect","fill":{"gradient":"radial","x1":0.5,"y1":0.5,"r1":0,"x2":0.5,"y2":0.5,"r2":0.5,"stops":[{"offset":0,"color":"rgba(255,255,255,1)"},{"offset":0.2,"color":"rgba(255,255,255,0.8)"},{"offset":0.4,"color":"rgba(255,255,255,0.45)"},{"offset":0.6,"color":"rgba(255,255,255,0.18)"},{"offset":0.8,"color":"rgba(255,255,255,0.05)"},{"offset":1,"color":"rgba(255,255,255,0)"}]}},"encoding":{"x":{"field":"x0","type":"quantitative","axis":null},"x2":{"field":"x1"},"y":{"field":"y0","type":"quantitative","axis":null},"y2":{"field":"y1"},"opacity":{"field":"v","type":"quantitative","scale":{"domain":[0,1],"range":[0,1]},"legend":null}}},
{"data":{"values":[{"label":"No Diffuser","x0":158,"y0":219},{"label":"Z= 4 mm","x0":413,"y0":221},{"label":"Z= 2 mm","x0":153,"y0":457},{"label":"Z= 5 mm","x0":418,"y0":459}]},"mark":{"type":"text","font":"Open Sans","fontSize":33.5,"align":"center","baseline":"alphabetic","color":"#fff"},"encoding":{"x":{"field":"x0","type":"quantitative","axis":null},"y":{"field":"y0","type":"quantitative","axis":null},"text":{"field":"label"}}},
{"data":{"values":[{"label":"(c) Defocus+Diffusion PSFs for a","x0":18,"y0":533},{"label":"(Corner Field)","x0":957,"y0":533}]},"mark":{"type":"text","font":"Liberation Sans","fontSize":43.7,"align":"left","baseline":"alphabetic","color":"#000"},"encoding":{"x":{"field":"x0","type":"quantitative","axis":null},"y":{"field":"y0","type":"quantitative","axis":null},"text":{"field":"label"}}},
{"data":{"values":[{"label":"Lens Camera","x0":670,"y0":533}]},"mark":{"type":"text","font":"Liberation Sans","fontSize":43.7,"fontStyle":"italic","fontWeight":"bold","align":"left","baseline":"alphabetic","color":"#000"},"encoding":{"x":{"field":"x0","type":"quantitative","axis":null},"y":{"field":"y0","type":"quantitative","axis":null},"text":{"field":"label"}}}
]},
{"width":579,"height":436,"view":{"stroke":"#777","strokeWidth":1.5},"resolve":{"scale":{"color":"independent"}},"layer":[
{"data":{"name":"cComputed"},"mark":{"type":"line","strokeWidth":3,"strokeDash":[10,8]},"encoding":{"x":{"field":"x","type":"quantitative","scale":{"domain":[0,60],"nice":false},"axis":{"orient":"bottom","values":[0,10,20,30,40,50,60],"title":null,"grid":false,"domain":false,"tickSize":-5,"tickColor":"#777","labelFont":"Open Sans","labelFontSize":33,"labelColor":"#000","labelPadding":11,"labelFlush":false,"encoding":{"labels":{"dx":{"value":{"expr":"datum.value==0?9.5:datum.value==60?-14:2.5"}}}}}},"y":{"field":"y","type":"quantitative","scale":{"domain":[0,9],"nice":false},"axis":{"orient":"left","values":[1,2,3,4,5,6,7,8],"title":null,"grid":false,"domain":false,"labels":false,"tickSize":-5,"tickColor":"#777"}},"color":{"field":"z","type":"nominal","scale":{"domain":["Z= 2 mm","Z= 4 mm","Z= 5 mm"],"range":["#1f1a8a","#1a8f3c","#fb1a1a"]},"legend":{"title":"Computed","orient":"none","legendX":170,"legendY":276,"symbolType":"stroke","symbolSize":6724,"symbolStrokeWidth":3,"symbolDash":[17,17],"symbolOffset":6,"clipHeight":32.7,"rowPadding":0,"labelFont":"Open Sans","labelFontSize":27.4,"labelColor":"#000","labelOffset":13,"labelLimit":300,"titleFont":"Open Sans","titleFontSize":34.5,"titleFontWeight":"normal","titleColor":"#000","titlePadding":14,"titleLimit":400,"padding":0}}}},
{"data":{"name":"cCaptured"},"mark":{"type":"line","strokeWidth":3},"encoding":{"x":{"field":"x","type":"quantitative","axis":{"orient":"top","values":[10,20,30,40,50],"title":null,"grid":false,"domain":false,"labels":false,"tickSize":-5,"tickColor":"#777"}},"y":{"field":"y","type":"quantitative","axis":{"orient":"right","values":[1,2,3,4,5,6,7,8],"title":null,"grid":false,"domain":false,"labels":false,"tickSize":-5,"tickColor":"#777"}},"color":{"field":"z","type":"nominal","scale":{"domain":["No Diffuser","Z= 2 mm","Z= 4 mm","Z= 5 mm"],"range":["#000000","#1f1a8a","#1a8f3c","#fb1a1a"]},"legend":{"title":"Captured","orient":"none","legendX":326,"legendY":23,"symbolType":"stroke","symbolSize":7744,"symbolStrokeWidth":3,"clipHeight":33,"rowPadding":0,"labelFont":"Open Sans","labelFontSize":27.4,"labelColor":"#000","labelOffset":7,"labelLimit":300,"titleFont":"Open Sans","titleFontSize":34.5,"titleFontWeight":"normal","titleColor":"#000","titlePadding":14,"titleLimit":400,"padding":0,"encoding":{"title":{"dx":{"value":5}}}}}}},
{"data":{"values":[{"x0":1.43,"x1":17.3,"y0":8.73,"y1":6.27}]},"mark":{"type":"rect","fill":null,"stroke":"#f91c22","strokeWidth":3.5},"encoding":{"x":{"field":"x0","type":"quantitative","axis":null},"x2":{"field":"x1"},"y":{"field":"y0","type":"quantitative","axis":null},"y2":{"field":"y1"}}},
{"data":{"values":[{"label":"f/1.8;","x0":2.9,"y0":7.63}]},"mark":{"type":"text","font":"Open Sans","fontSize":35,"align":"left","baseline":"alphabetic","color":"#000"},"encoding":{"x":{"field":"x0","type":"quantitative","axis":null},"y":{"field":"y0","type":"quantitative","axis":null},"text":{"field":"label"}}},
{"data":{"values":[{"label":"α = 10","x0":2.9,"y0":6.7}]},"mark":{"type":"text","font":"Liberation Serif","fontSize":39,"align":"left","baseline":"alphabetic","color":"#000"},"encoding":{"x":{"field":"x0","type":"quantitative","axis":null},"y":{"field":"y0","type":"quantitative","axis":null},"text":{"field":"label"}}},
{"data":{"values":[{"label":"o","x0":14.4,"y0":7.1}]},"mark":{"type":"text","font":"Liberation Serif","fontSize":22,"align":"left","baseline":"alphabetic","color":"#000"},"encoding":{"x":{"field":"x0","type":"quantitative","axis":null},"y":{"field":"y0","type":"quantitative","axis":null},"text":{"field":"label"}}}
]}
],"spacing":0,"bounds":"flush"},
{"width":1229,"height":2,"data":{"values":[{}]},"mark":{"type":"rect","color":"#111"},"encoding":{}}
],"spacing":0},
{"width":2,"height":1776,"data":{"values":[{}]},"mark":{"type":"rect","color":"#111"},"encoding":{}},
{"width":968,"height":1776,"view":{"fill":"#fff"},"data":{"values":[{"label":"Captured and computed diffusion PSFs of","x0":1251,"y0":334},{"label":"a center point source in a pinhole camera.","x0":1251,"y0":386},{"label":"Captured and computed diffusion PSFs of","x0":1248,"y0":846},{"label":"a corner point source (field angle = 10°) in","x0":1248,"y0":898},{"label":"a pinhole camera.","x0":1248,"y0":950},{"label":"Captured and computed defocus+diffusion PSFs","x0":1246,"y0":1356},{"label":"of a corner point source (field angle = 10°). Note","x0":1246,"y0":1408},{"label":"that the defocus pattern in (c) is asymmetric","x0":1246,"y0":1461},{"label":"because of lens aberrations.","x0":1246,"y0":1513}]},"mark":{"type":"text","font":"Liberation Sans","fontSize":43.7,"align":"left","baseline":"alphabetic","color":"#000"},"encoding":{"x":{"field":"x0","type":"quantitative","scale":{"domain":[1233,2201],"nice":false,"zero":false},"axis":null},"y":{"field":"y0","type":"quantitative","scale":{"domain":[0,1776],"nice":false,"zero":false,"reverse":true},"axis":null},"text":{"field":"label"}}}
],"spacing":0},
{"width":2201,"height":174,"view":{"fill":"#fff"},"data":{"values":[{"label":"* In all these three cases, the PSFs computed using our derived","x0":2,"y0":1830},{"label":"diffuser model (dashed curves) are fairly consistent with the","x0":36.5,"y0":1882},{"label":"captured ones (solid curves).","x0":36.5,"y0":1934}]},"mark":{"type":"text","font":"Liberation Sans","fontSize":43.7,"align":"left","baseline":"alphabetic","color":"#000"},"encoding":{"x":{"field":"x0","type":"quantitative","scale":{"domain":[0,2201],"nice":false,"zero":false},"axis":null},"y":{"field":"y0","type":"quantitative","scale":{"domain":[1776,1950],"nice":false,"zero":false,"reverse":true},"axis":null},"text":{"field":"label"}}}
]}
